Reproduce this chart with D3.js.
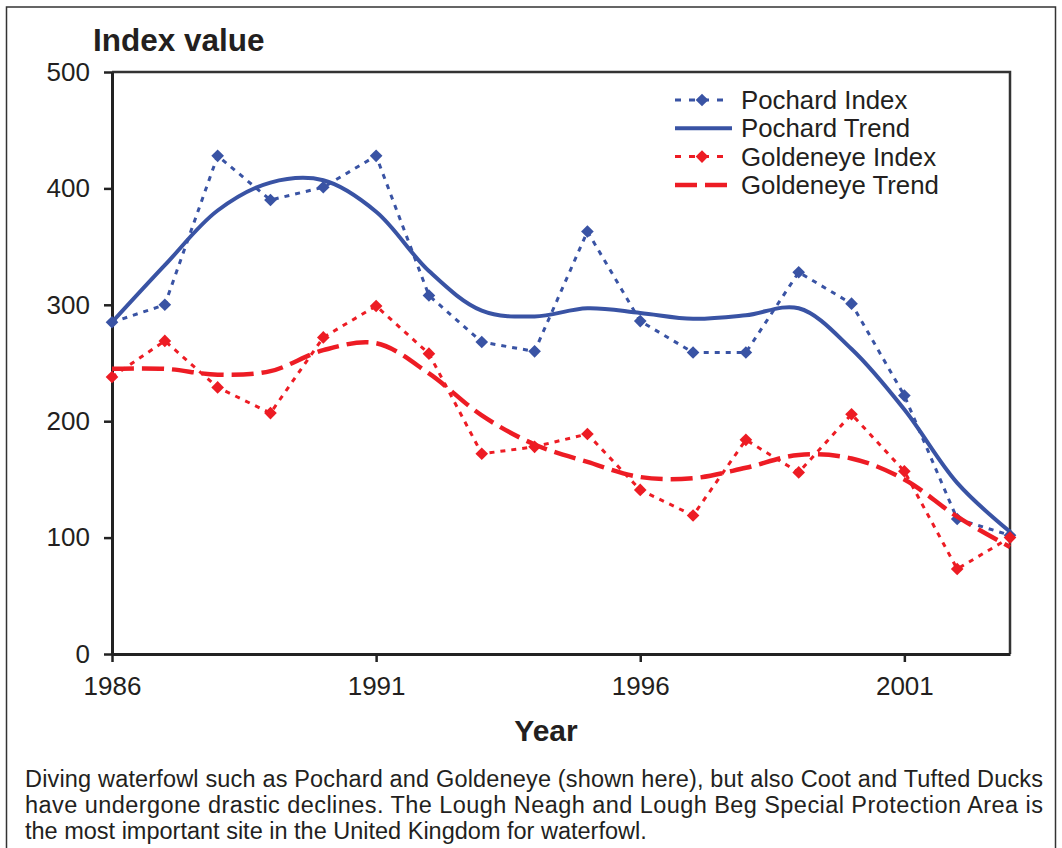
<!DOCTYPE html>
<html>
<head>
<meta charset="utf-8">
<script src="https://cdn.jsdelivr.net/npm/d3@7"></script>
<style>
  body { margin: 0; background: #fff; }
  svg { font-family: "Liberation Sans", Arial, sans-serif; }
</style>
</head>
<body>
<div id="chart"></div>
<script>
// data
var years = [1986, 1987, 1988, 1989, 1990, 1991, 1992, 1993, 1994, 1995, 1996, 1997, 1998, 1999, 2000, 2001, 2002, 2003];
var pochardIndex = [285, 300, 428, 390, 401, 428, 308, 268, 260, 363, 286, 259, 259, 328, 301, 222, 116, 102];
var pochardTrend = [285, 334, 381, 405, 407, 380, 329, 295, 290, 297, 293, 288, 291, 297, 262, 210, 147, 105];
var goldeneyeIndex = [238, 269, 229, 207, 272, 299, 258, 172, 178, 189, 141, 119, 184, 156, 206, 157, 73, 100];
var goldeneyeTrend = [245, 245, 240, 243, 261, 267, 241, 205, 180, 165, 152, 151, 160, 171, 168, 150, 118, 92];
var seriesNames = ["Pochard Index", "Pochard Trend", "Goldeneye Index", "Goldeneye Trend"];
var yTicks = [0, 100, 200, 300, 400, 500];
var xTicks = [1986, 1991, 1996, 2001];
var captionLines = [
    "Diving waterfowl such as Pochard and Goldeneye (shown here), but also Coot and Tufted Ducks",
    "have undergone drastic declines. The Lough Neagh and Lough Beg Special Protection Area is",
    "the most important site in the United Kingdom for waterfowl."
];

var blue = "#3953a4", red = "#ed1c24", ink = "#231f20";

var svg = d3.select("#chart")
    .append("svg")
    .attr("width", 1062)
    .attr("height", 848)
    .style("display", "block");

// outer frame
svg.append("rect")
    .attr("x", 6.5).attr("y", 7)
    .attr("width", 1049).attr("height", 900)
    .attr("fill", "none")
    .attr("stroke", "#333")
    .attr("stroke-width", 1.5);

var x = d3.scaleLinear().domain([1986, 2003]).range([112, 1010]);
var y = d3.scaleLinear().domain([0, 500]).range([654, 72]);

// plot box (top and right)
svg.append("path")
    .attr("d", "M" + x(1986) + "," + y(500) + "H" + x(2003) + "V" + y(0))
    .attr("fill", "none")
    .attr("stroke", "#333")
    .attr("stroke-width", 2.5);

// Y axis
var yAxis = svg.append("g")
    .attr("transform", "translate(" + x(1986) + ",0)")
    .call(d3.axisLeft(y).tickValues(yTicks).tickSize(8).tickSizeOuter(0).tickPadding(14));

// X axis
var xAxis = svg.append("g")
    .attr("transform", "translate(0," + y(0) + ")")
    .call(d3.axisBottom(x).tickValues(xTicks).tickFormat(d3.format("d")).tickSize(8).tickSizeOuter(0).tickPadding(15));

[yAxis, xAxis].forEach(function (g) {
    g.select(".domain").attr("stroke", "#222").attr("stroke-width", 3);
    g.selectAll(".tick line").attr("stroke", "#222").attr("stroke-width", 2.5);
    g.selectAll(".tick text")
        .attr("fill", ink)
        .style("font-family", "'Liberation Sans', Arial, sans-serif")
        .style("font-size", "26px");
});

// lines
function series(vals) {
    return years.map(function (yr, i) { return { year: yr, value: vals[i] }; });
}
var straight = d3.line()
    .x(function (d) { return x(d.year); })
    .y(function (d) { return y(d.value); });
var smooth = d3.line()
    .x(function (d) { return x(d.year); })
    .y(function (d) { return y(d.value); })
    .curve(d3.curveCatmullRom.alpha(0.5));

var diamond = d3.symbol().type(d3.symbolSquare).size(80);

function drawIndex(vals, color) {
    svg.append("path")
        .datum(series(vals))
        .attr("d", straight)
        .attr("fill", "none")
        .attr("stroke", color)
        .attr("stroke-width", 3)
        .attr("stroke-dasharray", "5,6");
    svg.append("g")
        .selectAll("path")
        .data(series(vals))
        .enter()
        .append("path")
        .attr("d", diamond)
        .attr("transform", function (d) { return "translate(" + x(d.year) + "," + y(d.value) + ") rotate(45)"; })
        .attr("fill", color);
}

drawIndex(pochardIndex, blue);
svg.append("path")
    .datum(series(pochardTrend))
    .attr("d", smooth)
    .attr("fill", "none")
    .attr("stroke", blue)
    .attr("stroke-width", 4);

drawIndex(goldeneyeIndex, red);
svg.append("path")
    .datum(series(goldeneyeTrend))
    .attr("d", smooth)
    .attr("fill", "none")
    .attr("stroke", red)
    .attr("stroke-width", 4.5)
    .attr("stroke-dasharray", "22,8");

// legend
var legendStyles = [
    { color: blue, dash: "6,8", marker: true, width: 3 },
    { color: blue, dash: null, marker: false, width: 4 },
    { color: red, dash: "6,8", marker: true, width: 3 },
    { color: red, dash: "22,8", marker: false, width: 4.5 }
];
var legend = svg.append("g").attr("transform", "translate(675,100)");
seriesNames.forEach(function (name, i) {
    var row = legend.append("g").attr("transform", "translate(0," + (i * 28.3) + ")");
    var st = legendStyles[i];
    row.append("line")
        .attr("x1", 0).attr("x2", st.marker ? 48 : 57)
        .attr("y1", 0).attr("y2", 0)
        .attr("stroke", st.color)
        .attr("stroke-width", st.width)
        .attr("stroke-dasharray", st.dash);
    if (st.marker) {
        row.append("path")
            .attr("d", diamond)
            .attr("transform", "translate(27,0) rotate(45)")
            .attr("fill", st.color);
    }
    row.append("text")
        .attr("x", 66)
        .attr("dy", "0.35em")
        .attr("fill", ink)
        .style("font-size", "25.8px")
        .text(name);
});

// axis titles
svg.append("text")
    .attr("x", 93)
    .attr("y", 51)
    .attr("fill", ink)
    .style("font-weight", "bold")
    .style("font-size", "31.5px")
    .text("Index value");

svg.append("text")
    .attr("text-anchor", "middle")
    .attr("x", 546)
    .attr("y", 741)
    .attr("fill", ink)
    .style("font-weight", "bold")
    .style("font-size", "30px")
    .text("Year");

// caption: first two lines stretched to the frame width
svg.append("g")
    .selectAll("text")
    .data(captionLines)
    .enter()
    .append("text")
    .attr("x", 25)
    .attr("y", function (d, i) { return 787 + i * 26; })
    .attr("fill", ink)
    .style("font-size", "23.5px")
    .each(function (d, i) {
        if (i < captionLines.length - 1) {
            d3.select(this).attr("textLength", 1018).attr("lengthAdjust", "spacing");
        }
    })
    .text(function (d) { return d; });
</script>
</body>
</html>
